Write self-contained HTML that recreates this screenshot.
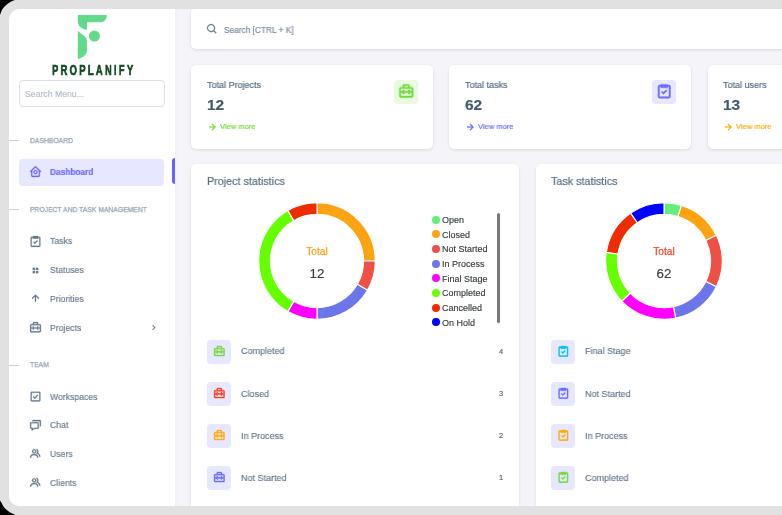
<!DOCTYPE html>
<html><head><meta charset="utf-8">
<style>
html,body{margin:0;padding:0}
body{width:782px;height:515px;overflow:hidden;background:#000;position:relative;font-family:"Liberation Sans",sans-serif;}
#frame{position:absolute;left:0;top:0;width:820px;height:515px;background:#e1e1e1;border-radius:13px 0 0 13px}
#scr{position:absolute;left:0;top:0;width:782px;height:515px;clip-path:inset(9px 0 9px 9px round 10.5px 0 0 10.5px);background:#f5f5f9}
.abs{position:absolute}
.t{will-change:transform;-webkit-text-stroke-width:.18px;position:absolute;white-space:nowrap;line-height:1;transform-origin:left center;color:#697a8d}
#side{position:absolute;left:0;top:0;width:175.3px;height:515px;background:#fff;box-shadow:0 0 4px rgba(67,89,113,.08)}
.hd{font-size:7.3px;color:#95a1ae;-webkit-text-stroke-width:.25px;transform:scaleX(.93)}
.hl{position:absolute;left:9px;width:9.5px;height:1px;background:#c9d0d8}
.mi{font-size:9.8px;color:#697a8d;transform:scaleX(.885)}
.ic{position:absolute;width:13px;height:13px;color:#697a8d;fill:currentColor;stroke:currentColor;stroke-width:.45;margin:-.75px 0 0 -.75px}
.card{position:absolute;background:#fff;border-radius:5px;box-shadow:0 1px 3px rgba(67,89,113,.17)}
.ib{position:absolute;width:24px;height:24px;border-radius:4px;background:#e7e7ff}
.ib svg{stroke-width:.7;position:absolute;left:3.75px;top:3.4px;width:16.5px;height:16.5px}
.ib.sm svg{left:5.55px;top:5.05px;width:12.7px;height:12.7px}
.lt{font-size:9.6px;color:#5f7084;-webkit-text-stroke:.12px #5f7084;transform:scaleX(.94)}
.ln{font-size:7.4px;color:#56677c;transform:none}
.lg{font-size:8.97px;color:#373d3f;-webkit-text-stroke:.15px #373d3f}
.dot{position:absolute;width:8px;height:8px;margin:0;border-radius:50%}
</style></head><body>
<div id="frame"></div>
<svg class="abs" style="left:0;top:0" width="16" height="16" viewBox="0 0 16 16"><path d="M0 0H14.9L12.3 1 10.2 2 7.7 3.8 5.1 6.1 3.1 8.2 2 9.8 1 12.3 0 14.9Z" fill="#000"/></svg>
<svg class="abs" style="left:0;top:499px" width="16" height="16" viewBox="0 0 16 16"><path d="M0 16H15.4L12.8 14.8 10.2 13.5 7.7 11.8 5.1 9.5 3.1 6.9 1.5 3.8 0 1.4Z" fill="#000"/></svg>
<div id="scr">
<div id="side">
  <!-- logo -->
  <svg class="abs" style="left:70px;top:10px" width="50" height="55" viewBox="70 10 50 55">
    <path fill="#63d98a" d="M77.8 14.9 H106.8 C106.8 19.5 104 22.3 100.2 22.3 H86.9 V29.8 C81.5 29.3 77.8 25.8 77.8 21.8 Z"/>
    <path fill="#63d98a" d="M77.8 30.4 C80.5 34 85.8 35.5 86.9 39.4 V50.6 C86.9 55 82.5 58 77.8 59 Z"/>
    <circle cx="94.4" cy="36" r="5.5" fill="#63d98a"/>
  </svg>
  <div class="t" id="logot" style="left:52px;top:61.9px;font-size:15.2px;font-weight:bold;color:#174a27;letter-spacing:3.6px;-webkit-text-stroke:0.7px #174a27;transform:scaleX(.623)">PROPLANIFY</div>
  <div class="abs" style="left:19px;top:80.1px;width:143.5px;height:24.9px;border:1px solid #dde1e6;border-radius:4px;background:#fff"></div>
  <div class="t" style="left:25px;top:89.5px;font-size:8.7px;color:#b4bdc6">Search Menu...</div>

  <div class="hl" style="top:140px"></div>
  <div class="t hd" style="left:29.5px;top:137px">DASHBOARD</div>
  <div class="abs" style="left:19px;top:158.5px;width:144.9px;height:27.5px;border-radius:4px;background:#e7e7ff"></div>
  <div class="abs" style="left:172.3px;top:157.9px;width:3px;height:26.5px;border-radius:3px 0 0 3px;background:#6265ff"></div>
  <svg class="ic" style="left:30px;top:166px;color:#696cff" viewBox="0 0 24 24"><path d="M3 13h1v7c0 1.103.897 2 2 2h12c1.103 0 2-.897 2-2v-7h1a1 1 0 0 0 .707-1.707l-9-9a.999.999 0 0 0-1.414 0l-9 9A1 1 0 0 0 3 13zm9-8.586 6 6V15l.001 5H6v-9.586l6-6z"/><path d="M12 17c2.206 0 4-1.794 4-4s-1.794-4-4-4-4 1.794-4 4 1.794 4 4 4zm0-6c1.103 0 2 .897 2 2s-.897 2-2 2-2-.897-2-2 .897-2 2-2z"/></svg>
  <div class="t mi" style="left:50px;top:167.3px;color:#696cff;font-weight:bold;font-size:9.5px;transform:scaleX(.875)">Dashboard</div>

  <div class="hl" style="top:209px"></div>
  <div class="t hd" style="left:29.5px;top:206px">PROJECT AND TASK MANAGEMENT</div>

  <svg class="ic" style="left:30px;top:235.5px" viewBox="0 0 24 24"><path d="M5 22h14c1.103 0 2-.897 2-2V5c0-1.103-.897-2-2-2h-2a1 1 0 0 0-1-1H8a1 1 0 0 0-1 1H5c-1.103 0-2 .897-2 2v15c0 1.103.897 2 2 2zM5 5h2v2h10V5h2v15H5V5z"/><path d="m11 13.586-1.793-1.793-1.414 1.414L11 16.414l5.207-5.207-1.414-1.414z"/></svg>
  <div class="t mi" style="left:50px;top:236px">Tasks</div>
  <svg class="ic" style="left:30px;top:264.5px" viewBox="0 0 24 24"><path d="M7 7h4v4H7zm0 6h4v4H7zm6-6h4v4h-4zm0 6h4v4h-4z"/></svg>
  <div class="t mi" style="left:50px;top:265px">Statuses</div>
  <svg class="ic" style="left:30px;top:293px" viewBox="0 0 24 24"><path d="M11 8.414V18h2V8.414l4.293 4.293 1.414-1.414L12 4.586l-6.707 6.707 1.414 1.414z"/></svg>
  <div class="t mi" style="left:50px;top:294px">Priorities</div>
  <svg class="ic" style="left:30px;top:322px" viewBox="0 0 24 24"><path d="M20 6h-3V4c0-1.103-.897-2-2-2H9c-1.103 0-2 .897-2 2v2H4c-1.103 0-2 .897-2 2v11c0 1.103.897 2 2 2h16c1.103 0 2-.897 2-2V8c0-1.103-.897-2-2-2zm-5-2v2H9V4h6zM4 8h16v4h-3v-2h-2v2H9v-2H7v2H4V8zm0 11v-5h3v2h2v-2h6v2h2v-2h3.001v5H4z"/></svg>
  <div class="t mi" style="left:50px;top:323px">Projects</div>
  <svg class="ic" style="left:149px;top:323px;width:11px;height:11px" viewBox="0 0 24 24"><path d="M10.707 17.707 16.414 12l-5.707-5.707-1.414 1.414L13.586 12l-4.293 4.293z"/></svg>

  <div class="hl" style="top:364.5px"></div>
  <div class="t hd" style="left:29.5px;top:361px">TEAM</div>

  <svg class="ic" style="left:30px;top:391px" viewBox="0 0 24 24"><path d="m10.933 13.519-2.226-2.226-1.414 1.414 3.774 3.774 5.702-6.84-1.538-1.282z"/><path d="M19 3H5c-1.103 0-2 .897-2 2v14c0 1.103.897 2 2 2h14c1.103 0 2-.897 2-2V5c0-1.103-.897-2-2-2zM5 19V5h14l.002 14H5z"/></svg>
  <div class="t mi" style="left:50px;top:392px">Workspaces</div>
  <svg class="ic" style="left:30px;top:419.5px" viewBox="0 0 24 24"><path d="M5 18v3.766l1.515-.909L11.277 18H16c1.103 0 2-.897 2-2V8c0-1.103-.897-2-2-2H4c-1.103 0-2 .897-2 2v8c0 1.103.897 2 2 2h1zM4 8h12v8h-5.277L7 18.234V16H4V8z"/><path d="M20 2H8c-1.103 0-2 .897-2 2h12c1.103 0 2 .897 2 2v8c1.103 0 2-.897 2-2V4c0-1.103-.897-2-2-2z"/></svg>
  <div class="t mi" style="left:50px;top:420px">Chat</div>
  <svg class="ic" style="left:30px;top:448px" viewBox="0 0 24 24"><path d="M16.604 11.048a5.67 5.67 0 0 0 .751-3.44c-.179-1.784-1.175-3.361-2.803-4.44l-1.105 1.666c1.119.742 1.8 1.799 1.918 2.974a3.693 3.693 0 0 1-1.072 2.986l-1.192 1.192 1.618.475C18.951 13.701 19 17.957 19 18h2c0-1.789-.956-5.285-4.396-6.952z"/><path d="M9.5 12c2.206 0 4-1.794 4-4s-1.794-4-4-4-4 1.794-4 4 1.794 4 4 4zm0-6c1.103 0 2 .897 2 2s-.897 2-2 2-2-.897-2-2 .897-2 2-2zm1.5 7H8c-3.309 0-6 2.691-6 6v1h2v-1c0-2.206 1.794-4 4-4h3c2.206 0 4 1.794 4 4v1h2v-1c0-3.309-2.691-6-6-6z"/></svg>
  <div class="t mi" style="left:50px;top:449px">Users</div>
  <svg class="ic" style="left:30px;top:477px" viewBox="0 0 24 24"><path d="M16.604 11.048a5.67 5.67 0 0 0 .751-3.44c-.179-1.784-1.175-3.361-2.803-4.44l-1.105 1.666c1.119.742 1.8 1.799 1.918 2.974a3.693 3.693 0 0 1-1.072 2.986l-1.192 1.192 1.618.475C18.951 13.701 19 17.957 19 18h2c0-1.789-.956-5.285-4.396-6.952z"/><path d="M9.5 12c2.206 0 4-1.794 4-4s-1.794-4-4-4-4 1.794-4 4 1.794 4 4 4zm0-6c1.103 0 2 .897 2 2s-.897 2-2 2-2-.897-2-2 .897-2 2-2zm1.5 7H8c-3.309 0-6 2.691-6 6v1h2v-1c0-2.206 1.794-4 4-4h3c2.206 0 4 1.794 4 4v1h2v-1c0-3.309-2.691-6-6-6z"/></svg>
  <div class="t mi" style="left:50px;top:477.7px">Clients</div>
</div>

<!-- MAIN -->
<div class="card" id="sb" style="left:191.3px;top:9.2px;width:640px;height:39.6px;border-radius:4px 4px 5px 5px"></div>
<svg class="ic" style="left:206.3px;top:23.4px;width:12.2px;height:12.2px;margin:0" viewBox="0 0 24 24"><path d="M10 18a7.952 7.952 0 0 0 4.897-1.688l4.396 4.396 1.414-1.414-4.396-4.396A7.952 7.952 0 0 0 18 10c0-4.411-3.589-8-8-8s-8 3.589-8 8 3.589 8 8 8zm0-14c3.309 0 6 2.691 6 6s-2.691 6-6 6-6-2.691-6-6 2.691-6 6-6z"/></svg>
<div class="t" style="left:223.6px;top:25.8px;font-size:8.6px;color:#7a8a9c;transform:scaleX(.965)">Search [CTRL + K]</div>

<!-- stat cards -->
<div class="card" style="left:191px;top:65px;width:242px;height:84px"></div>
<div class="t" style="left:207px;top:79.8px;font-size:9.4px;color:#566a7f;transform:scaleX(.96)">Total Projects</div>
<div class="t" style="left:207.0px;top:96.8px;font-size:15.5px;font-weight:bold;color:#435971">12</div>
<svg class="ic" style="left:206.2px;top:120.8px;width:12.2px;height:12.2px;margin:0;color:#71dd37" viewBox="0 0 24 24"><path d="m11.293 17.293 1.414 1.414L19.414 12l-6.707-6.707-1.414 1.414L15.586 11H6v2h9.586z"/></svg>
<div class="t" style="left:220px;top:122.5px;font-size:7.8px;transform:scaleX(.97);color:#71dd37">View more</div>
<div class="ib" style="left:394px;top:80px;background:#e8fadf"><svg viewBox="0 0 24 24" fill="#71dd37" stroke="#71dd37"><path d="M20 6h-3V4c0-1.103-.897-2-2-2H9c-1.103 0-2 .897-2 2v2H4c-1.103 0-2 .897-2 2v11c0 1.103.897 2 2 2h16c1.103 0 2-.897 2-2V8c0-1.103-.897-2-2-2zm-5-2v2H9V4h6zM4 8h16v4h-3v-2h-2v2H9v-2H7v2H4V8zm0 11v-5h3v2h2v-2h6v2h2v-2h3.001v5H4z"/></svg></div>

<div class="card" style="left:449.3px;top:65px;width:241.8px;height:84px"></div>
<div class="t" style="left:465px;top:79.8px;font-size:9.4px;color:#566a7f;transform:scaleX(.96)">Total tasks</div>
<div class="t" style="left:465.0px;top:96.8px;font-size:15.5px;font-weight:bold;color:#435971">62</div>
<svg class="ic" style="left:464.2px;top:120.8px;width:12.2px;height:12.2px;margin:0;color:#696cff" viewBox="0 0 24 24"><path d="m11.293 17.293 1.414 1.414L19.414 12l-6.707-6.707-1.414 1.414L15.586 11H6v2h9.586z"/></svg>
<div class="t" style="left:478px;top:122.5px;font-size:7.8px;transform:scaleX(.97);color:#696cff">View more</div>
<div class="ib" style="left:652px;top:80px;background:#e7e7ff"><svg viewBox="0 0 24 24" fill="#696cff" stroke="#696cff"><path d="M5 22h14c1.103 0 2-.897 2-2V5c0-1.103-.897-2-2-2h-2a1 1 0 0 0-1-1H8a1 1 0 0 0-1 1H5c-1.103 0-2 .897-2 2v15c0 1.103.897 2 2 2zM5 5h2v2h10V5h2v15H5V5z"/><path d="m11 13.586-1.793-1.793-1.414 1.414L11 16.414l5.207-5.207-1.414-1.414z"/></svg></div>

<div class="card" style="left:707.5px;top:65px;width:242px;height:84px"></div>
<div class="t" style="left:723px;top:79.8px;font-size:9.4px;color:#566a7f;transform:scaleX(.96)">Total users</div>
<div class="t" style="left:723.0px;top:96.8px;font-size:15.5px;font-weight:bold;color:#435971">13</div>
<svg class="ic" style="left:722.2px;top:120.8px;width:12.2px;height:12.2px;margin:0;color:#ffab00" viewBox="0 0 24 24"><path d="m11.293 17.293 1.414 1.414L19.414 12l-6.707-6.707-1.414 1.414L15.586 11H6v2h9.586z"/></svg>
<div class="t" style="left:736px;top:122.5px;font-size:7.8px;transform:scaleX(.97);color:#ffab00">View more</div>

<!-- project statistics -->
<div class="card" style="left:191px;top:163.7px;width:328px;height:400px"></div>
<div class="t" style="left:207px;top:175px;font-size:11.6px;color:#566a7f;transform:scaleX(.93)">Project statistics</div>
<svg class="abs" style="left:250.9px;top:194.8px" width="132" height="132" viewBox="-66 -66 132 132"><path d="M0.00 -58.30 A58.3 58.3 0 0 1 58.30 -0.00 L46.60 -0.00 A46.6 46.6 0 0 0 0.00 -46.60 Z" fill="#fca311" stroke="#fff" stroke-width="1.1" stroke-linejoin="miter"/><path d="M58.30 -0.00 A58.3 58.3 0 0 1 50.49 29.15 L40.36 23.30 A46.6 46.6 0 0 0 46.60 -0.00 Z" fill="#ee5046" stroke="#fff" stroke-width="1.1" stroke-linejoin="miter"/><path d="M50.49 29.15 A58.3 58.3 0 0 1 0.00 58.30 L0.00 46.60 A46.6 46.6 0 0 0 40.36 23.30 Z" fill="#6b76ea" stroke="#fff" stroke-width="1.1" stroke-linejoin="miter"/><path d="M0.00 58.30 A58.3 58.3 0 0 1 -29.15 50.49 L-23.30 40.36 A46.6 46.6 0 0 0 0.00 46.60 Z" fill="#ff00ff" stroke="#fff" stroke-width="1.1" stroke-linejoin="miter"/><path d="M-29.15 50.49 A58.3 58.3 0 0 1 -29.15 -50.49 L-23.30 -40.36 A46.6 46.6 0 0 0 -23.30 40.36 Z" fill="#66ff00" stroke="#fff" stroke-width="1.1" stroke-linejoin="miter"/><path d="M-29.15 -50.49 A58.3 58.3 0 0 1 -0.00 -58.30 L-0.00 -46.60 A46.6 46.6 0 0 0 -23.30 -40.36 Z" fill="#ee2c00" stroke="#fff" stroke-width="1.1" stroke-linejoin="miter"/></svg>
<div class="t" style="left:316.5px;top:246.9px;font-size:10.2px;color:#fea21a;-webkit-text-stroke:.25px #fea21a;transform:translateX(-50%)">Total</div>
<div class="t" style="left:316.9px;top:267.1px;font-size:13.3px;color:#373d3f;transform:translateX(-50%)">12</div>

<div class="dot" style="left:432.1px;top:215.55px;background:#63ed7a"></div><div class="t lg" style="left:442.2px;top:215.80px">Open</div><div class="dot" style="left:432.1px;top:230.25px;background:#fca311"></div><div class="t lg" style="left:442.2px;top:230.50px">Closed</div><div class="dot" style="left:432.1px;top:244.95px;background:#ee5046"></div><div class="t lg" style="left:442.2px;top:245.20px">Not Started</div><div class="dot" style="left:432.1px;top:259.65px;background:#6b76ea"></div><div class="t lg" style="left:442.2px;top:259.90px">In Process</div><div class="dot" style="left:432.1px;top:274.35px;background:#ff00ff"></div><div class="t lg" style="left:442.2px;top:274.60px">Final Stage</div><div class="dot" style="left:432.1px;top:289.05px;background:#66ff00"></div><div class="t lg" style="left:442.2px;top:289.30px">Completed</div><div class="dot" style="left:432.1px;top:303.75px;background:#ee2c00"></div><div class="t lg" style="left:442.2px;top:304.00px">Cancelled</div><div class="dot" style="left:432.1px;top:318.45px;background:#0000ff"></div><div class="t lg" style="left:442.2px;top:318.70px">On Hold</div>
<div class="abs" style="left:496.8px;top:212.6px;width:3.6px;height:110.6px;border-radius:2px;background:#787878"></div>

<div class="ib sm" style="left:207px;top:339.65px"><svg viewBox="0 0 24 24" fill="#71dd37" stroke="#71dd37"><path d="M20 6h-3V4c0-1.103-.897-2-2-2H9c-1.103 0-2 .897-2 2v2H4c-1.103 0-2 .897-2 2v11c0 1.103.897 2 2 2h16c1.103 0 2-.897 2-2V8c0-1.103-.897-2-2-2zm-5-2v2H9V4h6zM4 8h16v4h-3v-2h-2v2H9v-2H7v2H4V8zm0 11v-5h3v2h2v-2h6v2h2v-2h3.001v5H4z"/></svg></div><div class="t lt" style="left:241px;top:346.35px">Completed</div><div class="t ln" style="left:499px;top:347.75px">4</div><div class="ib sm" style="left:207px;top:381.82px"><svg viewBox="0 0 24 24" fill="#ff3e1d" stroke="#ff3e1d"><path d="M20 6h-3V4c0-1.103-.897-2-2-2H9c-1.103 0-2 .897-2 2v2H4c-1.103 0-2 .897-2 2v11c0 1.103.897 2 2 2h16c1.103 0 2-.897 2-2V8c0-1.103-.897-2-2-2zm-5-2v2H9V4h6zM4 8h16v4h-3v-2h-2v2H9v-2H7v2H4V8zm0 11v-5h3v2h2v-2h6v2h2v-2h3.001v5H4z"/></svg></div><div class="t lt" style="left:241px;top:388.52px">Closed</div><div class="t ln" style="left:499px;top:389.92px">3</div><div class="ib sm" style="left:207px;top:423.99px"><svg viewBox="0 0 24 24" fill="#ffab00" stroke="#ffab00"><path d="M20 6h-3V4c0-1.103-.897-2-2-2H9c-1.103 0-2 .897-2 2v2H4c-1.103 0-2 .897-2 2v11c0 1.103.897 2 2 2h16c1.103 0 2-.897 2-2V8c0-1.103-.897-2-2-2zm-5-2v2H9V4h6zM4 8h16v4h-3v-2h-2v2H9v-2H7v2H4V8zm0 11v-5h3v2h2v-2h6v2h2v-2h3.001v5H4z"/></svg></div><div class="t lt" style="left:241px;top:430.69px">In Process</div><div class="t ln" style="left:499px;top:432.09px">2</div><div class="ib sm" style="left:207px;top:466.16px"><svg viewBox="0 0 24 24" fill="#696cff" stroke="#696cff"><path d="M20 6h-3V4c0-1.103-.897-2-2-2H9c-1.103 0-2 .897-2 2v2H4c-1.103 0-2 .897-2 2v11c0 1.103.897 2 2 2h16c1.103 0 2-.897 2-2V8c0-1.103-.897-2-2-2zm-5-2v2H9V4h6zM4 8h16v4h-3v-2h-2v2H9v-2H7v2H4V8zm0 11v-5h3v2h2v-2h6v2h2v-2h3.001v5H4z"/></svg></div><div class="t lt" style="left:241px;top:472.86px">Not Started</div><div class="t ln" style="left:499px;top:474.26px">1</div>

<!-- task statistics -->
<div class="card" style="left:535.5px;top:163.7px;width:328px;height:400px"></div>
<div class="t" style="left:551px;top:175px;font-size:11.6px;color:#566a7f;transform:scaleX(.93)">Task statistics</div>
<svg class="abs" style="left:598.3px;top:194.7px" width="132" height="132" viewBox="-66 -66 132 132"><path d="M0.00 -58.30 A58.3 58.3 0 0 1 17.45 -55.63 L13.95 -44.46 A46.6 46.6 0 0 0 0.00 -46.60 Z" fill="#63ed7a" stroke="#fff" stroke-width="1.1" stroke-linejoin="miter"/><path d="M17.45 -55.63 A58.3 58.3 0 0 1 52.34 -25.68 L41.84 -20.52 A46.6 46.6 0 0 0 13.95 -44.46 Z" fill="#fca311" stroke="#fff" stroke-width="1.1" stroke-linejoin="miter"/><path d="M52.34 -25.68 A58.3 58.3 0 0 1 52.34 25.68 L41.84 20.52 A46.6 46.6 0 0 0 41.84 -20.52 Z" fill="#ee5046" stroke="#fff" stroke-width="1.1" stroke-linejoin="miter"/><path d="M52.34 25.68 A58.3 58.3 0 0 1 11.73 57.11 L9.38 45.65 A46.6 46.6 0 0 0 41.84 20.52 Z" fill="#6b76ea" stroke="#fff" stroke-width="1.1" stroke-linejoin="miter"/><path d="M11.73 57.11 A58.3 58.3 0 0 1 -42.25 40.17 L-33.77 32.11 A46.6 46.6 0 0 0 9.38 45.65 Z" fill="#ff00ff" stroke="#fff" stroke-width="1.1" stroke-linejoin="miter"/><path d="M-42.25 40.17 A58.3 58.3 0 0 1 -57.63 -8.83 L-46.06 -7.06 A46.6 46.6 0 0 0 -33.77 32.11 Z" fill="#66ff00" stroke="#fff" stroke-width="1.1" stroke-linejoin="miter"/><path d="M-57.63 -8.83 A58.3 58.3 0 0 1 -33.31 -47.85 L-26.62 -38.25 A46.6 46.6 0 0 0 -46.06 -7.06 Z" fill="#ee2c00" stroke="#fff" stroke-width="1.1" stroke-linejoin="miter"/><path d="M-33.31 -47.85 A58.3 58.3 0 0 1 -0.00 -58.30 L-0.00 -46.60 A46.6 46.6 0 0 0 -26.62 -38.25 Z" fill="#0000ff" stroke="#fff" stroke-width="1.1" stroke-linejoin="miter"/></svg>
<div class="t" style="left:664px;top:246.9px;font-size:10.2px;color:#f8492a;-webkit-text-stroke:.25px #f8492a;transform:translateX(-50%)">Total</div>
<div class="t" style="left:664.3px;top:267.1px;font-size:13.3px;color:#373d3f;transform:translateX(-50%)">62</div>
<div class="ib sm" style="left:551.2px;top:339.65px"><svg viewBox="0 0 24 24" fill="#03c3ec" stroke="#03c3ec"><path d="M5 22h14c1.103 0 2-.897 2-2V5c0-1.103-.897-2-2-2h-2a1 1 0 0 0-1-1H8a1 1 0 0 0-1 1H5c-1.103 0-2 .897-2 2v15c0 1.103.897 2 2 2zM5 5h2v2h10V5h2v15H5V5z"/><path d="m11 13.586-1.793-1.793-1.414 1.414L11 16.414l5.207-5.207-1.414-1.414z"/></svg></div><div class="t lt" style="left:585.3px;top:346.35px">Final Stage</div><div class="ib sm" style="left:551.2px;top:381.82px"><svg viewBox="0 0 24 24" fill="#696cff" stroke="#696cff"><path d="M5 22h14c1.103 0 2-.897 2-2V5c0-1.103-.897-2-2-2h-2a1 1 0 0 0-1-1H8a1 1 0 0 0-1 1H5c-1.103 0-2 .897-2 2v15c0 1.103.897 2 2 2zM5 5h2v2h10V5h2v15H5V5z"/><path d="m11 13.586-1.793-1.793-1.414 1.414L11 16.414l5.207-5.207-1.414-1.414z"/></svg></div><div class="t lt" style="left:585.3px;top:388.52px">Not Started</div><div class="ib sm" style="left:551.2px;top:423.99px"><svg viewBox="0 0 24 24" fill="#ffab00" stroke="#ffab00"><path d="M5 22h14c1.103 0 2-.897 2-2V5c0-1.103-.897-2-2-2h-2a1 1 0 0 0-1-1H8a1 1 0 0 0-1 1H5c-1.103 0-2 .897-2 2v15c0 1.103.897 2 2 2zM5 5h2v2h10V5h2v15H5V5z"/><path d="m11 13.586-1.793-1.793-1.414 1.414L11 16.414l5.207-5.207-1.414-1.414z"/></svg></div><div class="t lt" style="left:585.3px;top:430.69px">In Process</div><div class="ib sm" style="left:551.2px;top:466.16px"><svg viewBox="0 0 24 24" fill="#71dd37" stroke="#71dd37"><path d="M5 22h14c1.103 0 2-.897 2-2V5c0-1.103-.897-2-2-2h-2a1 1 0 0 0-1-1H8a1 1 0 0 0-1 1H5c-1.103 0-2 .897-2 2v15c0 1.103.897 2 2 2zM5 5h2v2h10V5h2v15H5V5z"/><path d="m11 13.586-1.793-1.793-1.414 1.414L11 16.414l5.207-5.207-1.414-1.414z"/></svg></div><div class="t lt" style="left:585.3px;top:472.86px">Completed</div>
</div>
</body></html>
